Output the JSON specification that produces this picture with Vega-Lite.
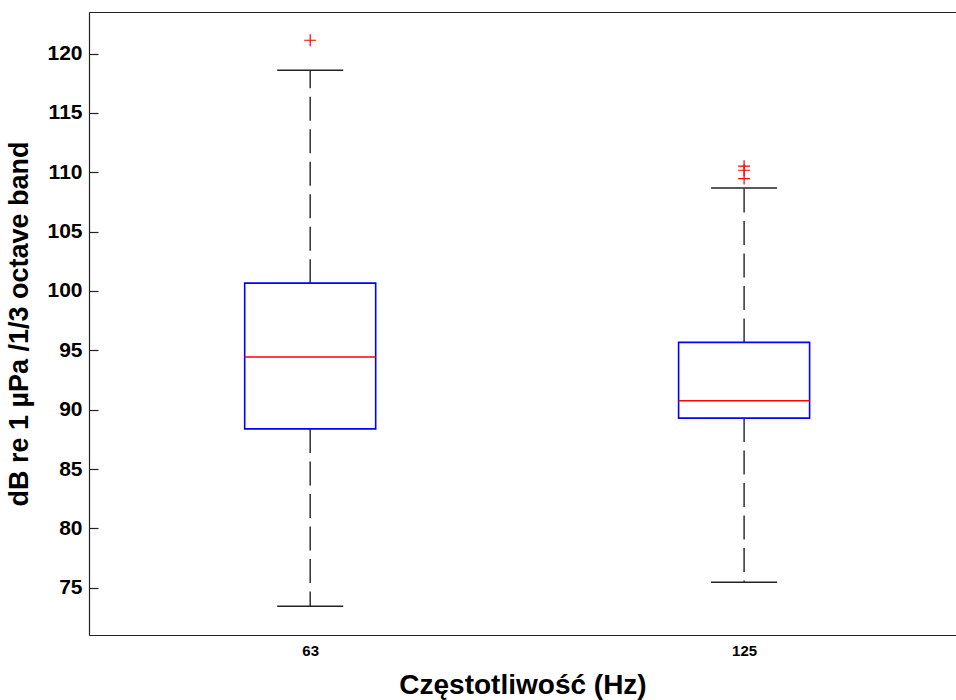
{
  "$schema": "https://vega.github.io/schema/vega-lite/v6.json",
  "width": 867,
  "height": 623,
  "autosize": {"type": "none"},
  "padding": {"left": 89, "top": 12, "right": 0, "bottom": 65},
  "background": "white",
  "config": {
    "view": {"stroke": null},
    "axis": {
      "grid": false,
      "domainColor": "#222",
      "domainWidth": 1.2,
      "tickColor": "#222",
      "labelColor": "black",
      "titleColor": "black",
      "labelFont": "Liberation Sans",
      "titleFont": "Liberation Sans",
      "labelFontWeight": "bold",
      "titleFontWeight": "bold"
    }
  },
  "datasets": {
    "boxes": [
      {"freq": 63, "lower": 73.44, "q1": 88.38, "median": 94.43, "q3": 100.66, "upper": 118.59},
      {"freq": 125, "lower": 75.46, "q1": 89.29, "median": 90.75, "q3": 95.67, "upper": 108.68}
    ],
    "outliers": [
      {"freq": 63, "value": 121.12},
      {"freq": 125, "value": 110.51},
      {"freq": 125, "value": 110.17},
      {"freq": 125, "value": 109.47}
    ]
  },
  "layer": [
    {
      "data": {"name": "boxes"},
      "mark": {"type": "rule", "strokeDash": [24, 8.5], "color": "#222", "strokeWidth": 1.4},
      "encoding": {
        "x": {
          "field": "freq", "type": "quantitative",
          "scale": {"type": "log", "domain": [44.78, 173.3], "nice": false},
          "axis": {
            "orient": "bottom", "values": [63, 125], "format": "d",
            "ticks": false, "labelPadding": 8, "labelFontSize": 15,
            "title": "Częstotliwość (Hz)", "titleFontSize": 28, "titlePadding": 13
          }
        },
        "y": {
          "field": "q3", "type": "quantitative",
          "scale": {"domain": [71.02, 123.5], "nice": false, "zero": false},
          "axis": {
            "orient": "left", "values": [75, 80, 85, 90, 95, 100, 105, 110, 115, 120],
            "tickSize": -9, "tickWidth": 1.2, "labelPadding": 16, "labelFontSize": 21,
            "title": "dB re 1 µPa /1/3 octave band", "titleFontSize": 27, "titlePadding": 13
          }
        },
        "y2": {"field": "upper"}
      }
    },
    {
      "data": {"name": "boxes"},
      "mark": {"type": "rule", "strokeDash": [24, 8.5], "color": "#222", "strokeWidth": 1.4},
      "encoding": {
        "x": {"field": "freq", "type": "quantitative", "axis": null},
        "y": {"field": "q1", "type": "quantitative", "axis": {"title": "dB re 1 µPa /1/3 octave band"}},
        "y2": {"field": "lower"}
      }
    },
    {
      "data": {"name": "boxes"},
      "mark": {"type": "tick", "orient": "horizontal", "size": 66, "thickness": 1.4, "color": "#222", "opacity": 1},
      "encoding": {
        "x": {"field": "freq", "type": "quantitative", "axis": null},
        "y": {"field": "upper", "type": "quantitative", "axis": {"title": "dB re 1 µPa /1/3 octave band"}}
      }
    },
    {
      "data": {"name": "boxes"},
      "mark": {"type": "tick", "orient": "horizontal", "size": 66, "thickness": 1.4, "color": "#222", "opacity": 1},
      "encoding": {
        "x": {"field": "freq", "type": "quantitative", "axis": null},
        "y": {"field": "lower", "type": "quantitative", "axis": {"title": "dB re 1 µPa /1/3 octave band"}}
      }
    },
    {
      "data": {"name": "boxes"},
      "mark": {"type": "bar", "width": 131, "filled": false, "stroke": "#0000FF", "strokeWidth": 1.6, "opacity": 1},
      "encoding": {
        "x": {"field": "freq", "type": "quantitative", "axis": null},
        "y": {"field": "q1", "type": "quantitative", "axis": {"title": "dB re 1 µPa /1/3 octave band"}},
        "y2": {"field": "q3"}
      }
    },
    {
      "data": {"name": "boxes"},
      "mark": {"type": "tick", "orient": "horizontal", "size": 131, "thickness": 1.5, "color": "#FF0000", "opacity": 1},
      "encoding": {
        "x": {"field": "freq", "type": "quantitative", "axis": null},
        "y": {"field": "median", "type": "quantitative", "axis": {"title": "dB re 1 µPa /1/3 octave band"}}
      }
    },
    {
      "data": {"name": "outliers"},
      "mark": {"type": "point", "shape": "M-1,0H1M0,-1V1", "size": 144, "filled": false, "stroke": "#FF0000", "strokeWidth": 1.2, "opacity": 1},
      "encoding": {
        "x": {
          "field": "freq", "type": "quantitative",
          "axis": {"orient": "top", "labels": false, "ticks": false, "title": null, "domain": true}
        },
        "y": {"field": "value", "type": "quantitative", "axis": {"title": "dB re 1 µPa /1/3 octave band"}}
      }
    }
  ],
  "resolve": {"axis": {"x": "independent"}}
}
